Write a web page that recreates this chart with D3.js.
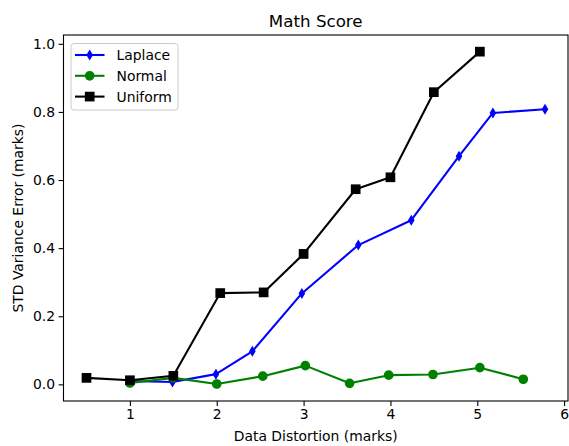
<!DOCTYPE html>
<html>
<head>
<meta charset="utf-8">
<script src="https://cdn.jsdelivr.net/npm/d3@7"></script>
<style>
  body { margin: 0; background: #fff; }
  text { font-family: "DejaVu Sans", sans-serif; fill: #000; }
</style>
</head>
<body>
<div id="grafico"></div>
<script>
// valores
const laplaceX = [0.99, 1.49, 1.99, 2.41, 2.98, 3.63, 4.24, 4.79, 5.18, 5.78];
const laplaceY = [0.010, 0.007, 0.030, 0.097, 0.267, 0.409, 0.482, 0.670, 0.797, 0.808];
const normalX = [1.0, 1.5, 2.0, 2.53, 3.02, 3.53, 3.98, 4.49, 5.03, 5.53];
const normalY = [0.004, 0.019, 0.001, 0.024, 0.055, 0.003, 0.027, 0.029, 0.049, 0.015];
const uniformX = [0.5, 1.0, 1.5, 2.04, 2.54, 3.0, 3.6, 4.0, 4.5, 5.03];
const uniformY = [0.019, 0.012, 0.025, 0.268, 0.270, 0.383, 0.573, 0.608, 0.858, 0.977];
const xTicks = [1, 2, 3, 4, 5, 6];
const yTicks = [0.0, 0.2, 0.4, 0.6, 0.8, 1.0];

const series = [
  { name: "Laplace", xs: laplaceX, ys: laplaceY, color: "#0000ff", marker: "d" },
  { name: "Normal", xs: normalX, ys: normalY, color: "#008000", marker: "o" },
  { name: "Uniform", xs: uniformX, ys: uniformY, color: "#000000", marker: "s" }
];

const width = 569, height = 446;
const izq = 63.5, der = 568, arriba = 35, abajo = 401;
const ms = 8.3; // tamaño de marcador
const borde = 1.39; // borde del marcador

const x = d3.scaleLinear().domain([0.235, 6.045]).range([izq, der]);
const y = d3.scaleLinear().domain([-0.0489, 1.0259]).range([abajo, arriba]);

const $svg = d3.select("#grafico")
  .append("svg")
  .attr("width", width)
  .attr("height", height);

// ejes
const ejeX = $svg.append("g")
  .attr("transform", `translate(0, ${abajo})`)
  .call(d3.axisBottom(x).tickValues(xTicks).tickFormat(d3.format("d")).tickSize(4.9).tickPadding(3.5));
const ejeY = $svg.append("g")
  .attr("transform", `translate(${izq}, 0)`)
  .call(d3.axisLeft(y).tickValues(yTicks).tickFormat(d3.format(".1f")).tickSize(4.9).tickPadding(3.5));
[ejeX, ejeY].forEach(e => {
  e.select(".domain").remove();
  e.selectAll("line").attr("stroke", "#000").attr("stroke-width", 1.1);
  e.selectAll("text").attr("font-size", 13.9).style("font-family", "DejaVu Sans").attr("fill", "#000");
});

// marco
$svg.append("rect")
  .attr("x", izq).attr("y", arriba)
  .attr("width", der - izq).attr("height", abajo - arriba)
  .attr("fill", "none").attr("stroke", "#000").attr("stroke-width", 1.1);

const dibujarMarcador = (g, marker, color, cx, cy) => {
  let m;
  if (marker === "o") {
    m = g.append("circle").attr("cx", cx).attr("cy", cy).attr("r", ms / 2);
  } else if (marker === "s") {
    m = g.append("rect").attr("x", cx - ms / 2).attr("y", cy - ms / 2)
      .attr("width", ms).attr("height", ms);
  } else {
    const w = ms * 0.6 / 2, h = ms / 2;
    m = g.append("path")
      .attr("d", `M${cx},${cy - h}L${cx + w},${cy}L${cx},${cy + h}L${cx - w},${cy}Z`);
  }
  m.attr("fill", color).attr("stroke", color).attr("stroke-width", borde)
    .attr("stroke-linejoin", "miter");
};

const linea = d3.line().x(d => x(d[0])).y(d => y(d[1]));

series.forEach(s => {
  const puntos = s.xs.map((v, i) => [v, s.ys[i]]);
  const g = $svg.append("g");
  g.append("path")
    .attr("d", linea(puntos))
    .attr("fill", "none")
    .attr("stroke", s.color)
    .attr("stroke-width", 2.08)
    .attr("stroke-linejoin", "round");
  puntos.forEach(p => dibujarMarcador(g, s.marker, s.color, x(p[0]), y(p[1])));
});

// titulo y etiquetas
$svg.append("text")
  .attr("x", (izq + der) / 2).attr("y", 27)
  .attr("text-anchor", "middle")
  .attr("font-size", 16.7)
  .text("Math Score");

$svg.append("text")
  .attr("x", (izq + der) / 2).attr("y", 441)
  .attr("text-anchor", "middle")
  .attr("font-size", 13.9)
  .text("Data Distortion (marks)");

$svg.append("text")
  .attr("transform", `translate(23, ${(arriba + abajo) / 2}) rotate(-90)`)
  .attr("text-anchor", "middle")
  .attr("font-size", 13.9)
  .text("STD Variance Error (marks)");

// leyenda
const leyenda = $svg.append("g");
leyenda.append("rect")
  .attr("x", 71).attr("y", 43.5)
  .attr("width", 107).attr("height", 66.5)
  .attr("rx", 3)
  .attr("fill", "#fff").attr("fill-opacity", 0.8)
  .attr("stroke", "#cccccc");
series.forEach((s, i) => {
  const cy = 55 + i * 20.8;
  leyenda.append("line")
    .attr("x1", 75).attr("x2", 104.5)
    .attr("y1", cy).attr("y2", cy)
    .attr("stroke", s.color).attr("stroke-width", 2.08);
  dibujarMarcador(leyenda, s.marker, s.color, 89.7, cy);
  leyenda.append("text")
    .attr("x", 116.5).attr("y", cy + 5)
    .attr("font-size", 13.9)
    .text(s.name);
});
</script>
</body>
</html>
